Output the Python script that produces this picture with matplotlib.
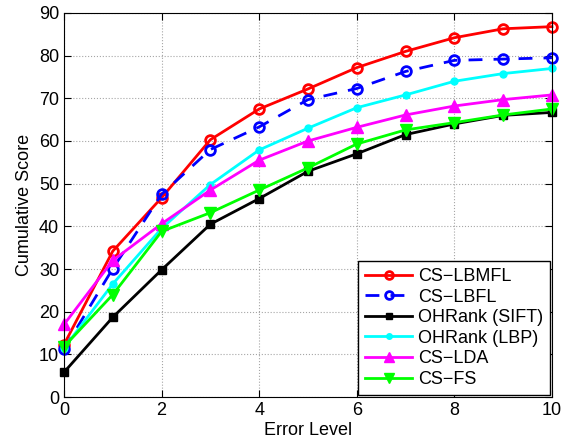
import matplotlib.pyplot as plt

plt.rcParams['font.family'] = ['Liberation Sans', 'DejaVu Sans']

error_level = [0, 1, 2, 3, 4, 5, 6, 7, 8, 9, 10]

cs_lbmfl = [12.3, 34.2, 46.7, 60.3, 67.5, 72.2, 77.2, 81.0, 84.2, 86.3, 86.8]
cs_lbfl = [11.2, 30.1, 47.5, 58.0, 63.3, 69.7, 72.3, 76.3, 78.9, 79.2, 79.5]
ohrank_sift = [5.8, 18.7, 29.8, 40.5, 46.5, 52.9, 57.0, 61.5, 64.0, 66.0, 66.7]
ohrank_lbp = [11.5, 26.5, 39.5, 49.8, 57.9, 63.0, 67.8, 70.8, 74.0, 75.8, 77.0]
cs_lda = [17.0, 32.0, 40.6, 48.5, 55.5, 60.0, 63.2, 66.1, 68.2, 69.7, 70.8]
cs_fs = [11.8, 24.0, 38.8, 43.2, 48.5, 53.7, 59.3, 62.6, 64.3, 66.1, 67.5]

fig = plt.figure(figsize=(5.69, 4.42), dpi=100)
ax = fig.add_axes([0.1125, 0.1018, 0.8575, 0.8688])

lw = 2
ax.plot(error_level, cs_lbmfl, '-', color='red', linewidth=lw, marker='o',
        markersize=7, markerfacecolor='none', markeredgewidth=2, clip_on=False,
        label='CS\u2212LBMFL')
ax.plot(error_level, cs_lbfl, '--', color='blue', linewidth=lw, marker='o',
        markersize=7, markerfacecolor='none', markeredgewidth=2, dashes=(5, 4),
        clip_on=False, label='CS\u2212LBFL')
ax.plot(error_level, ohrank_sift, '-', color='black', linewidth=lw, marker='s',
        markersize=6, clip_on=False, label='OHRank (SIFT)')
ax.plot(error_level, ohrank_lbp, '-', color='cyan', linewidth=lw, marker='o',
        markersize=5, clip_on=False, label='OHRank (LBP)')
ax.plot(error_level, cs_lda, '-', color='magenta', linewidth=lw, marker='^',
        markersize=9, clip_on=False, label='CS\u2212LDA')
ax.plot(error_level, cs_fs, '-', color='lime', linewidth=lw, marker='v',
        markersize=9, clip_on=False, label='CS\u2212FS')

ax.set_xlim(0, 10)
ax.set_ylim(0, 90)
ax.set_xticks(range(0, 11, 2))
ax.set_yticks(range(0, 91, 10))
ax.tick_params(direction='in', top=True, right=True, labelsize=13, length=5)
ax.grid(True, linestyle=':', color='gray', linewidth=0.8, alpha=0.7)
ax.set_xlabel('Error Level', fontsize=13, labelpad=2)
ax.set_ylabel('Cumulative Score', fontsize=13)

leg = ax.legend(loc='lower right', fontsize=13, fancybox=False, framealpha=1,
                edgecolor='black', borderaxespad=0.1, handlelength=2.6,
                labelspacing=0.2, handletextpad=0.3, borderpad=0.4,
                markerscale=0.8)
leg.get_frame().set_linewidth(1)
leg.set_zorder(5)

fig.savefig('out.png', dpi=100)
